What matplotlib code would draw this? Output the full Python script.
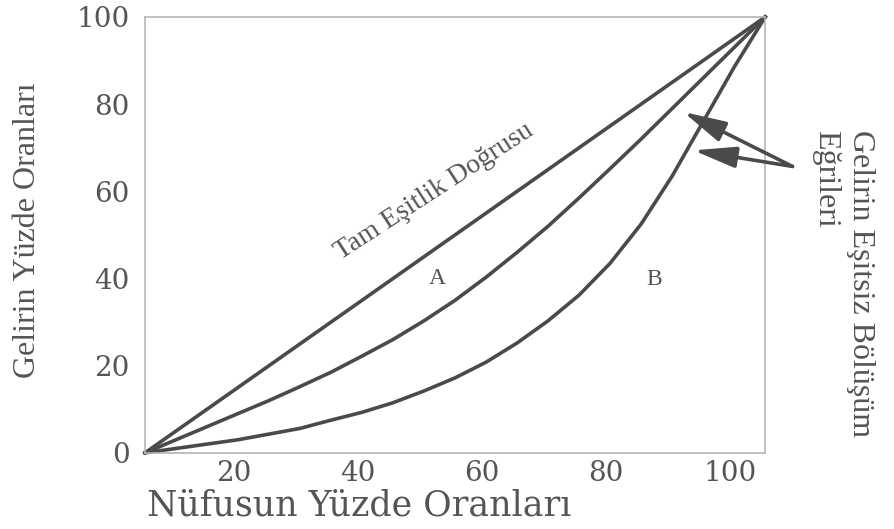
import matplotlib
matplotlib.use("Agg")
import matplotlib.pyplot as plt
from matplotlib.transforms import ScaledTranslation

# percent of population / percent of income
equal_x = [0, 100]
equal_y = [0, 100]

pop = [0, 5, 10, 15, 20, 25, 30, 35, 40, 45, 50, 55, 60, 65, 70, 75, 80, 85, 90, 95, 100]
a_y = [0, 3, 6, 9, 12, 15.2, 18.5, 22.2, 26, 30.3, 35, 40.3, 46, 52, 58.5, 65.2, 72, 79, 86, 93, 100]
b_y = [0, 1, 2, 3, 4.3, 5.6, 7.5, 9.3, 11.5, 14.2, 17.2, 20.8, 25.2, 30.3, 36.2, 43.5, 52.5, 63.5, 76, 88.5, 100]

ticks = [0, 20, 40, 60, 80, 100]
x_ticklabels = ["", "20", "40", "60", "80", "100"]
y_ticklabels = ["0", "20", "40", "60", "80", "100"]

arrow_tail = (104.4, 65.7)
arrow_tips = [(86.8, 78.2), (88.4, 69.4)]

line_col = "#4a4a4a"
text_col = "#555555"

fig = plt.figure(figsize=(8.95, 5.29), dpi=100)
ax = fig.add_axes([0.162, 0.144, 0.693, 0.824])

ax.plot(equal_x, equal_y, color=line_col, lw=2.6, clip_on=False, solid_capstyle="round")
ax.plot(pop, a_y, color=line_col, lw=2.6, clip_on=False, solid_joinstyle="round")
ax.plot(pop, b_y, color=line_col, lw=2.6, clip_on=False, solid_joinstyle="round")

ax.set_xlim(0, 100)
ax.set_ylim(0, 100)
ax.set_xticks(ticks)
ax.set_xticklabels(x_ticklabels)
ax.set_yticks(ticks)
ax.set_yticklabels(y_ticklabels)
ax.tick_params(length=0, labelsize=20, labelcolor=text_col)
ax.tick_params(axis="y", pad=11)
ax.tick_params(axis="x", pad=5)
for lab in ax.get_xticklabels() + ax.get_yticklabels():
    lab.set_family("DejaVu Serif")
for sp in ax.spines.values():
    sp.set_color("#b5b5b5")
    sp.set_linewidth(1.2)

# labels
fig.text(147 / 895, 1 - 506 / 529, "Nüfusun Yüzde Oranları", family="DejaVu Serif",
         fontsize=25, color=text_col, ha="left", va="center")
fig.text(28 / 895, 1 - 230 / 529, "Gelirin Yüzde Oranları", family="Liberation Serif",
         fontsize=23, color=text_col, rotation=90, ha="center", va="center")
fig.text(843 / 895, 1 - 130 / 529, "Gelirin Eşitsiz Bölüşüm\nEğrileri", family="Liberation Serif",
         fontsize=23, color=text_col, rotation=-90, rotation_mode="anchor",
         ha="left", va="center", multialignment="left", linespacing=1.3)

ax.text(46.6, 60, "Tam Eşitlik Doğrusu", family="Liberation Serif", fontsize=20,
        color=text_col, rotation=33, ha="center", va="center", rotation_mode="anchor")
ax.text(47.1, 40, "A", family="Liberation Serif", fontsize=17, color=text_col,
        ha="center", va="center")
ax.text(82.1, 39.8, "B", family="Liberation Serif", fontsize=17, color=text_col,
        ha="center", va="center")

for tip in arrow_tips:
    ax.annotate("", xy=tip, xytext=arrow_tail, annotation_clip=False,
                arrowprops=dict(arrowstyle="-|>,head_length=1.3,head_width=0.32",
                                mutation_scale=20, lw=2.6, color=line_col,
                                shrinkA=0, shrinkB=0))

# the scanned tick labels sit a bit left of their ticks
shift = ScaledTranslation(-0.35, 0, fig.dpi_scale_trans)
for lab in ax.get_xticklabels():
    lab.set_transform(lab.get_transform() + shift)

fig.savefig("out.png", dpi=100)
